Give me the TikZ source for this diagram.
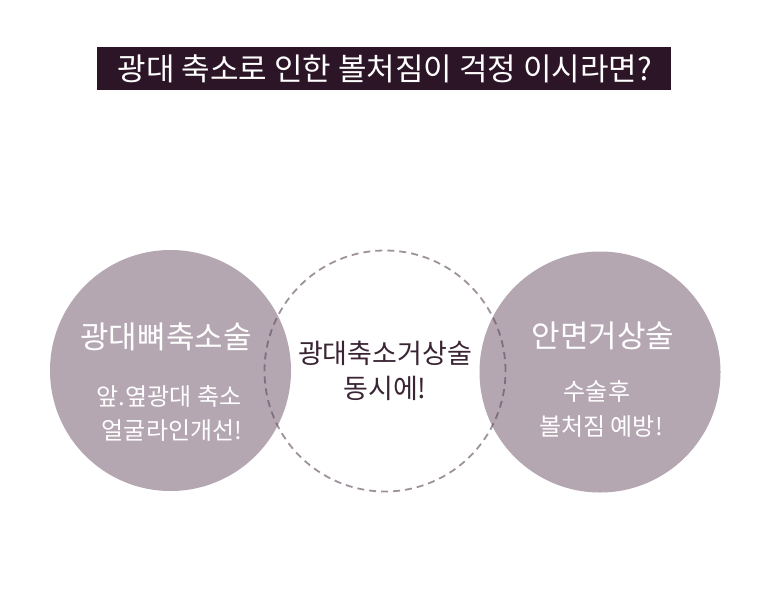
\documentclass[tikz,border=0pt]{standalone}
\usepackage{fontspec}
\setmainfont{Noto Sans CJK KR}
\definecolor{barcol}{HTML}{2C1527}
\definecolor{circfill}{HTML}{B5A7B2}
\definecolor{dashcol}{HTML}{5E4A59}
\definecolor{midtext}{HTML}{3A2433}
\tikzset{
  bigcirc/.style={circle, fill=circfill, draw=none, minimum size=241pt, inner sep=0pt},
  dashcirc/.style={circle, draw=dashcol, draw opacity=0.6, line width=1.8pt, dash pattern=on 7pt off 5pt, minimum size=241pt, inner sep=0pt},
  headtxt/.style={text=white, font=\fontsize{31}{33}\selectfont, inner sep=0pt},
  subtxt/.style={text=white, font=\fontsize{24}{26}\selectfont, inner sep=0pt},
  midtxt/.style={text=midtext, font=\fontsize{27}{29}\selectfont, inner sep=0pt},
}
\begin{document}
\begin{tikzpicture}[x=1pt,y=-1pt]
\useasboundingbox (0,0) rectangle (770,600);
\fill[white] (0,0) rectangle (770,600);
\node[fill=barcol, minimum width=574pt, minimum height=43pt, inner sep=0pt] (bar) at (384,68.5) {};
\node[text=white, font=\fontsize{31}{33}\selectfont, inner sep=0pt] (title) at (385,69) {광대 축소로 인한 볼처짐이 걱정 이시라면?};
\node[bigcirc] (lc) at (170.5,370.5) {};
\node[bigcirc] (rc) at (600,372) {};
\node[dashcirc] (mc) at (385,371) {};
\node[headtxt] (lh) at (166,337) {광대뼈축소술};
\node[subtxt] (l1) at (169,396) {앞.옆광대 축소};
\node[subtxt] (l2) at (172,431) {얼굴라인개선!};
\node[midtxt] (m1) at (385,353) {광대축소거상술};
\node[midtxt] (m2) at (385,388) {동시에!};
\node[headtxt] (rh) at (603,336) {안면거상술};
\node[subtxt] (r1) at (597,391) {수술후};
\node[subtxt] (r2) at (601,427) {볼처짐 예방!};
\end{tikzpicture}
\end{document}
